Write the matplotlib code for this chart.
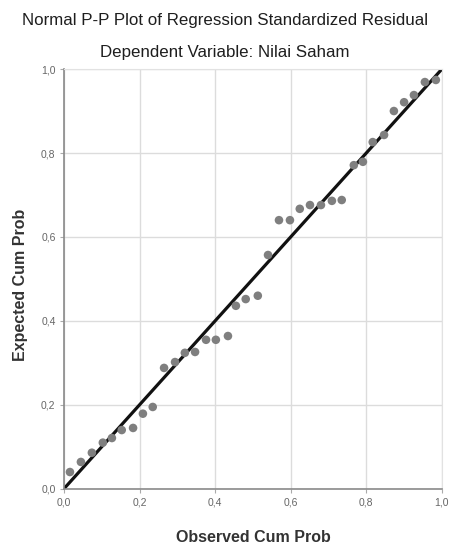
import numpy as np
import matplotlib
matplotlib.use('Agg')
from matplotlib import pyplot as plt
from matplotlib.ticker import FuncFormatter

plt.rcParams['font.family'] = ['Liberation Sans', 'DejaVu Sans']

# values
observed = [0.016, 0.045, 0.074, 0.103, 0.127, 0.153, 0.183, 0.209, 0.235,
            0.265, 0.294, 0.320, 0.347, 0.376, 0.402, 0.434, 0.455, 0.481,
            0.513, 0.540, 0.569, 0.598, 0.624, 0.651, 0.680, 0.709, 0.735,
            0.767, 0.791, 0.817, 0.847, 0.873, 0.900, 0.926, 0.955, 0.984]
expected = [0.040, 0.064, 0.086, 0.110, 0.121, 0.140, 0.145, 0.179, 0.195,
            0.288, 0.302, 0.324, 0.326, 0.355, 0.355, 0.364, 0.436, 0.452,
            0.460, 0.557, 0.640, 0.640, 0.667, 0.676, 0.676, 0.686, 0.688,
            0.771, 0.779, 0.826, 0.843, 0.900, 0.921, 0.938, 0.969, 0.974]
ticks = [0.0, 0.2, 0.4, 0.6, 0.8, 1.0]

fig = plt.figure(figsize=(4.5, 5.48), dpi=100)
ax = fig.add_axes([0.142, 0.108, 0.840, 0.766])

ax.set_xlim(0, 1)
ax.set_ylim(0, 1)
ax.set_xticks(ticks)
ax.set_yticks(ticks)
fmt = FuncFormatter(lambda v, p: f'{v:.1f}'.replace('.', ','))
ax.xaxis.set_major_formatter(fmt)
ax.yaxis.set_major_formatter(fmt)
ax.grid(True, color='#dcdcdc', linewidth=1)
ax.set_axisbelow(True)

for s in ['top', 'right']:
    ax.spines[s].set_color('#e2e2e2')
for s in ['left', 'bottom']:
    ax.spines[s].set_color('#8a8a8a')
    ax.spines[s].set_linewidth(1.2)
ax.tick_params(length=3, width=0.8, color='#aaaaaa', labelsize=7.5,
               labelcolor='#666666', pad=3)

ax.plot([0, 1], [0, 1], color='#111111', linewidth=2.3, zorder=2)
ax.scatter(observed, expected, s=38, color='#7f7f7f', edgecolors='none', zorder=3)

# axis titles placed where they sit in the picture
fig.text(0.5 * (64 + 442) / 450, 1 - 537 / 548, 'Observed Cum Prob',
         ha='center', va='center', fontsize=11.5, fontweight='bold', color='#333333')
fig.text(21 / 450, 1 - 285 / 548, 'Expected Cum Prob', rotation=90,
         ha='center', va='center', fontsize=11.5, fontweight='bold', color='#333333')

fig.text(0.5, 1 - 20 / 548, 'Normal P-P Plot of Regression Standardized Residual',
         ha='center', va='center', fontsize=12.2, color='#1e1e1e')
fig.text(0.5, 1 - 53 / 548, 'Dependent Variable: Nilai Saham',
         ha='center', va='center', fontsize=12.2, color='#1e1e1e')

plt.savefig('out.png', dpi=100)
